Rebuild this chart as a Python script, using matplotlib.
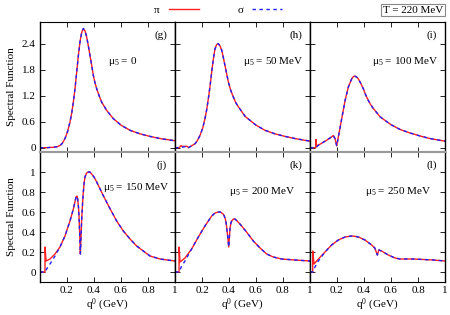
import matplotlib
matplotlib.use('Agg')
import matplotlib.pyplot as plt

plt.rcParams['font.family'] = ['Liberation Serif', 'DejaVu Serif']
plt.rcParams['mathtext.fontset'] = 'custom'
plt.rcParams['mathtext.rm'] = 'Liberation Serif'
plt.rcParams['mathtext.it'] = 'Liberation Serif:italic'
plt.rcParams['mathtext.default'] = 'regular'

# q0 (GeV) and pi spectral function
q_g = [0, 0.05, 0.1, 0.125, 0.148, 0.165, 0.185, 0.205, 0.222, 0.235, 0.247, 0.26,
       0.272, 0.284, 0.296, 0.309, 0.321, 0.333, 0.346, 0.358, 0.37, 0.383, 0.395,
       0.407, 0.42, 0.44, 0.457, 0.494, 0.543, 0.6, 0.667, 0.74, 0.815, 0.89, 1.0]
pi_g = [0, 0.0, 0.01, 0.02, 0.05, 0.10, 0.21, 0.38, 0.59, 0.80, 1.05, 1.38,
        1.75, 2.12, 2.44, 2.66, 2.75, 2.70, 2.55, 2.35, 2.13, 1.90, 1.67,
        1.50, 1.36, 1.18, 1.05, 0.86, 0.67, 0.52, 0.40, 0.32, 0.26, 0.21, 0.16]

q_h = [0, 0.03, 0.045, 0.05, 0.09, 0.1, 0.148, 0.165, 0.185, 0.205, 0.222, 0.235,
       0.247, 0.26, 0.272, 0.284, 0.296, 0.309, 0.321, 0.333, 0.346, 0.358, 0.37,
       0.383, 0.395, 0.412, 0.432, 0.45, 0.47, 0.52, 0.6, 0.667, 0.74, 0.815, 0.889, 1.0]
pi_h = [0, 0.0, 0.05, 0.03, 0.03, 0.0, 0.09, 0.16, 0.28, 0.45, 0.67, 0.88,
        1.13, 1.43, 1.75, 2.04, 2.28, 2.38, 2.40, 2.35, 2.25, 2.08, 1.9,
        1.70, 1.52, 1.33, 1.17, 1.04, 0.94, 0.72, 0.52, 0.40, 0.32, 0.26, 0.21, 0.15]

q_i = [0, 0.044, 0.044, 0.048, 0.074, 0.123, 0.16, 0.173, 0.185, 0.198, 0.21, 0.222,
       0.235, 0.26, 0.284, 0.309, 0.321, 0.333, 0.345, 0.358, 0.375, 0.395, 0.412,
       0.432, 0.45, 0.47, 0.52, 0.6, 0.667, 0.74, 0.815, 0.889, 1.0]
pi_i = [0, 0, 0.19, 0.04, 0.08, 0.17, 0.25, 0.28, 0.21, 0.04, 0.25, 0.45,
        0.67, 1.09, 1.40, 1.59, 1.64, 1.65, 1.63, 1.59, 1.49, 1.36, 1.22,
        1.09, 0.99, 0.90, 0.71, 0.53, 0.42, 0.34, 0.27, 0.21, 0.15]

q_j = [0, 0.037, 0.037, 0.045, 0.074, 0.111, 0.148, 0.185, 0.222, 0.247, 0.257, 0.267,
       0.274, 0.279, 0.285, 0.289, 0.294, 0.299, 0.304, 0.309, 0.315, 0.321, 0.327,
       0.333, 0.345, 0.358, 0.37, 0.383, 0.40, 0.42, 0.445, 0.47, 0.52, 0.568, 0.617,
       0.667, 0.716, 0.765, 0.815, 0.889, 1.0]
pi_j = [0, 0, 0.25, 0.11, 0.13, 0.18, 0.25, 0.36, 0.51, 0.63, 0.69, 0.75,
        0.76, 0.73, 0.65, 0.56, 0.38, 0.18, 0.36, 0.53, 0.68, 0.80, 0.89,
        0.95, 0.99, 1.0, 1.0, 0.98, 0.95, 0.90, 0.83, 0.76, 0.63, 0.51, 0.41,
        0.33, 0.26, 0.21, 0.16, 0.13, 0.11]

q_k = [0, 0.03, 0.03, 0.037, 0.074, 0.123, 0.173, 0.222, 0.272, 0.296, 0.321, 0.335,
       0.346, 0.357, 0.365, 0.373, 0.38, 0.39, 0.398, 0.407, 0.414, 0.42, 0.432, 0.444,
       0.46, 0.481, 0.53, 0.58, 0.63, 0.679, 0.728, 0.79, 0.889, 1.0]
pi_k = [0, 0, 0.25, 0.10, 0.14, 0.23, 0.35, 0.46, 0.56, 0.59, 0.60, 0.60,
        0.59, 0.58, 0.56, 0.53, 0.48, 0.36, 0.25, 0.43, 0.49, 0.51, 0.53, 0.53,
        0.51, 0.48, 0.40, 0.31, 0.24, 0.18, 0.15, 0.13, 0.12, 0.11]

q_l = [0, 0.02, 0.02, 0.03, 0.062, 0.111, 0.16, 0.21, 0.26, 0.285, 0.309, 0.333, 0.358,
       0.407, 0.457, 0.48, 0.499, 0.51, 0.53, 0.58, 0.63, 0.667, 0.765, 0.914, 1.0]
pi_l = [0, 0, 0.21, 0.08, 0.13, 0.2, 0.27, 0.32, 0.35, 0.355, 0.36, 0.357, 0.35,
        0.32, 0.27, 0.24, 0.17, 0.22, 0.21, 0.17, 0.14, 0.13, 0.13, 0.12, 0.11]

# sigma follows pi except near threshold: (points before join, q where it joins pi)
sig_g = ([], 0.0)
sig_h = ([(0, 0), (0.03, 0), (0.09, 0.03)], 0.1)
sig_i = ([(0, 0), (0.044, 0), (0.06, 0.05)], 0.074)
sig_j = ([(0, 0), (0.037, 0), (0.049, 0.03), (0.074, 0.08), (0.111, 0.16)], 0.148)
sig_k = ([(0, 0), (0.03, 0), (0.037, 0.02), (0.049, 0.06), (0.074, 0.11)], 0.123)
sig_l = ([(0, 0), (0.02, 0), (0.037, 0.05), (0.062, 0.11)], 0.111)

labels = ['(g)', '(h)', '(i)', '(j)', '(k)', '(l)']
mu5 = ['0', '50 MeV', '100 MeV', '150 MeV', '200 MeV', '250 MeV']

panels = [(q_g, pi_g, sig_g), (q_h, pi_h, sig_h), (q_i, pi_i, sig_i),
          (q_j, pi_j, sig_j), (q_k, pi_k, sig_k), (q_l, pi_l, sig_l)]

# text positions (axes fraction) for mu5 labels
mu_pos = [(0.50, 0.70, 'left'), (0.95, 0.70, 'right'), (0.95, 0.70, 'right'),
          (0.96, 0.73, 'right'), (0.89, 0.70, 'right'), (0.90, 0.70, 'right')]

fig = plt.figure(figsize=(4.5, 3.15), dpi=100)
W, H = 450, 315
x0s = [40, 175, 310]
tops = [22, 152]
pw, ph = 135, 130
fs = 8

lines = []
for n, (q, pi, sig) in enumerate(panels):
    r, c = divmod(n, 3)
    ax = fig.add_axes([x0s[c] / W, 1 - (tops[r] + ph) / H, pw / W, ph / H])
    lp, = ax.plot(q, pi, color='#ff2020', lw=1.0)
    lead, join = sig
    sq = [p[0] for p in lead] + [v for v in q if v >= join]
    sv = [p[1] for p in lead] + [pi[i] for i, v in enumerate(q) if v >= join]
    ls, = ax.plot(sq, sv, color='#2020ff', lw=1.0, ls=(0, (2.5, 2.5)))
    if n == 0:
        lines = [lp, ls]
    ax.set_xlim(0, 1)
    ax.set_xticks([0.2, 0.4, 0.6, 0.8, 1.0])
    if r == 0:
        ax.set_ylim(-0.1, 2.9)
        ax.set_yticks([0, 0.6, 1.2, 1.8, 2.4])
        ax.set_yticklabels(['0', '0.6', '1.2', '1.8', '2.4'])
        ax.set_xticklabels([])
        ax.spines['bottom'].set_color('#999999')
        ax.spines['bottom'].set_linewidth(1.5)
    else:
        ax.set_ylim(-0.1, 1.2)
        ax.set_yticks([0, 0.2, 0.4, 0.6, 0.8, 1.0])
        ax.set_yticklabels(['0', '0.2', '0.4', '0.6', '0.8', '1'])
        ax.set_xticklabels(['0.2', '0.4', '0.6', '0.8', '1'])
        ax.set_xlabel('q$^0$ (GeV)', fontsize=fs, labelpad=1)
        ax.spines['top'].set_color('#999999')
        ax.spines['top'].set_linewidth(1.5)
    if c != 0:
        ax.set_yticklabels([])
    else:
        ax.set_ylabel('Spectral Function', fontsize=fs, labelpad=4)
    ax.tick_params(direction='in', top=True, right=True, length=3.5, width=0.6,
                   labelsize=fs, pad=3)
    for s in ['left', 'right']:
        ax.spines[s].set_linewidth(1.0)
    ax.text(0.94, 0.9, labels[n], transform=ax.transAxes, ha='right',
            va='center', fontsize=fs)
    mx, my, ha = mu_pos[n]
    ax.text(mx, my, r'$\mu_5$ = ' + mu5[n], transform=ax.transAxes, ha=ha,
            va='center', fontsize=fs)

fig.legend(lines, ['π', 'σ'], loc='center', bbox_to_anchor=(0.485, 0.968),
           ncol=2, frameon=False, markerfirst=False, fontsize=fs,
           handlelength=2.7, columnspacing=3.5, handletextpad=0.8)
fig.text(0.985, 0.968, 'T = 220 MeV', ha='right', va='center', fontsize=fs,
         bbox=dict(boxstyle='square,pad=0.15', fc='white', ec='#888888', lw=0.8))

fig.savefig('out.png', dpi=100)
